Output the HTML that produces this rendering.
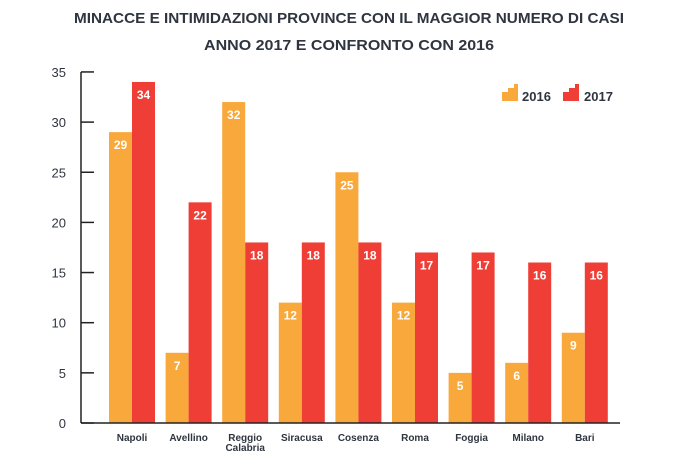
<!DOCTYPE html>
<html><head><meta charset="utf-8"><style>
body{margin:0;background:#fff;width:699px;height:455px;overflow:hidden;font-family:"Liberation Sans",sans-serif}
</style></head><body>
<svg width="699" height="455" id="c">
<text x="349" y="23" text-anchor="middle" font-size="15" font-weight="bold" fill="#2f3540" textLength="550" lengthAdjust="spacingAndGlyphs">MINACCE E INTIMIDAZIONI PROVINCE CON IL MAGGIOR NUMERO DI CASI</text>
<text x="349" y="50" text-anchor="middle" font-size="15" font-weight="bold" fill="#2f3540" textLength="290" lengthAdjust="spacingAndGlyphs">ANNO 2017 E CONFRONTO CON 2016</text>
<g>
<path d="M502 101 V92 H508 V88 H514 V84 H518 V101 Z" fill="#f9a93b"/>
<text x="522" y="101" font-size="13" font-weight="bold" fill="#2f3540">2016</text>
<path d="M563 101 V92 H569 V88 H575 V84 H579 V101 Z" fill="#ee3e36"/>
<text x="584" y="101" font-size="13" font-weight="bold" fill="#2f3540">2017</text>
</g>
<g id="plot"></g>
</svg>
<script>
const categories=["Napoli","Avellino","Reggio\nCalabria","Siracusa","Cosenza","Roma","Foggia","Milano","Bari"];
const values2016=[29,7,32,12,25,12,5,6,9];
const values2017=[34,22,18,18,18,17,17,16,16];
const yTicks=[0,5,10,15,20,25,30,35];
const NS="http://www.w3.org/2000/svg";
const g=document.getElementById('plot');
const y0=423,pxu=10.03;
const y=v=>y0-v*pxu;
const x=i=>109+i*56.6;
const bw=23;
function el(t,a,p){const e=document.createElementNS(NS,t);for(const k in a)e.setAttribute(k,a[k]);(p||g).appendChild(e);return e;}
const ax=el('line',{x1:81,y1:y(35),x2:81,y2:y0,stroke:'#222','stroke-width':1.5});


yTicks.forEach(t=>{
 const l=el('line',{x1:81,x2:94,y1:y(t),y2:y(t),stroke:'#222','stroke-width':1.5});
 
 
 const tx=el('text',{x:66,y:y(t)+5,'text-anchor':'end','font-size':13,fill:'#2f3540'});
 tx.textContent=t;
 
 
});
function bar(i,v,off,col,name){
 const r=el('rect',{x:x(i)+off,y:y(v),width:bw,height:v*pxu,fill:col});
 
 
 const t=el('text',{x:x(i)+off+bw/2,y:y(v)+17,'text-anchor':'middle','font-size':12,'font-weight':'bold',fill:'#fff'});
 t.textContent=v;
 
 
}
categories.forEach((c,i)=>{
 bar(i,values2016[i],0,'#f9a93b','bar-2016');
 bar(i,values2017[i],bw,'#ee3e36','bar-2017');
 c.split('\n').forEach((ln,j)=>{
  const t=el('text',{x:x(i)+bw,y:441+j*10,'text-anchor':'middle','font-size':10,'font-weight':'bold',fill:'#2f3540'});
  t.textContent=ln;
  
  
 });
});
const b=el('line',{x1:81,y1:y0,x2:620,y2:y0,stroke:'#222','stroke-width':1.5});


</script>
</body></html>
